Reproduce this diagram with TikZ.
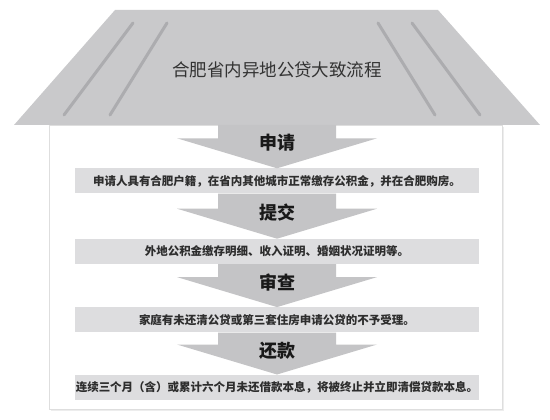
\documentclass[tikz,border=0pt]{standalone}
\usepackage{fontspec}
\usepackage{xcolor}
\usepackage{tikz}
\usetikzlibrary{arrows.meta, positioning, calc}
\newfontfamily\cjk{Noto Sans CJK SC}
\definecolor{roofgray}{RGB}{201,201,203}
\definecolor{linegray}{RGB}{172,172,175}
\definecolor{arrowgray}{RGB}{196,196,198}
\definecolor{bargray}{RGB}{221,221,223}
\definecolor{textdark}{RGB}{45,45,45}
\newcommand{\chevron}[2]{%
  \fill[arrowgray] ($(#1)+(-59,0)$) -- ($(#1)+(59,0)$) -- ($(#2.north)+(59,-30)$)
    -- ($(#2.north)+(100,-30)$) -- (#2.north) -- ($(#2.north)+(-100,-30)$)
    -- ($(#2.north)+(-59,-30)$) -- cycle;}

\begin{document}
\begin{tikzpicture}[
          x=1pt, y=-1pt,
          bar/.style={rectangle, fill=bargray, minimum width=404pt, minimum height=25pt, inner sep=0pt,
                      font=\cjk\bfseries\fontsize{11.5}{12}\selectfont, text=textdark},
          steplabel/.style={font=\cjk\bfseries\fontsize{18}{20}\selectfont, text=black!90, inner sep=0pt},
          roofline/.style={linegray, line width=3pt, line cap=round},
          node distance=45pt
      ]
      \useasboundingbox (0,0) rectangle (550,420);

      % House body
      \fill[black!7] (51,127) rectangle (504,411);
      \draw[fill=white, draw=black!13, line width=0.8pt] (49,125) rectangle (502,409);

      % Roof
      \fill[roofgray] (115,10) -- (438,10) -- (540,125) -- (14,125) -- cycle;
      \draw[roofline] (133,23) -- (64,115);
      \draw[roofline] (167,23) -- (110,115);
      \draw[roofline] (378,23) -- (435,115);
      \draw[roofline] (412,23) -- (480,115);
      \node[font=\cjk\fontsize{17.5}{20}\selectfont, text=black!80] (title) at (277,70) {合肥省内异地公贷大致流程};
      \coordinate (eaves) at (277,125);

      % Bars
      \node[bar] (bar1) at (277,181) {申请人具有合肥户籍，在省内其他城市正常缴存公积金，并在合肥购房。};
      \node[bar, below=45pt of bar1] (bar2) {外地公积金缴存明细、收入证明、婚姻状况证明等。};
      \node[bar, below=43pt of bar2] (bar3) {家庭有未还清公贷或第三套住房申请公贷的不予受理。};
      \node[bar, below=42pt of bar3] (bar4) {连续三个月（含）或累计六个月未还借款本息，将被终止并立即清偿贷款本息。};

      % Arrows
      \chevron{eaves}{bar1}
      \chevron{bar1.south}{bar2}
      \chevron{bar2.south}{bar3}
      \chevron{bar3.south}{bar4}

      % Step labels
      \node[steplabel] (apply) at ($(bar1.north)+(0,-26)$) {申请};
      \node[steplabel] (submit) at ($(bar2.north)+(0,-26)$) {提交};
      \node[steplabel] (review) at ($(bar3.north)+(0,-25)$) {审查};
      \node[steplabel] (repay) at ($(bar4.north)+(0,-24)$) {还款};

      \end{tikzpicture}
\end{document}
